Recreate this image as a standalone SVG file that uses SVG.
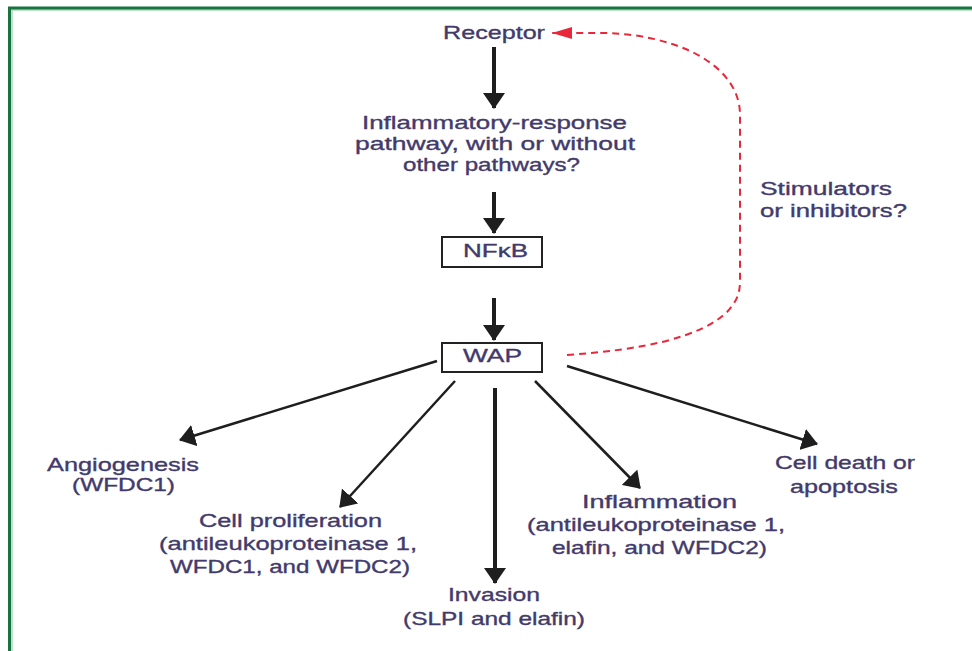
<svg xmlns="http://www.w3.org/2000/svg" width="972" height="651" viewBox="0 0 972 651">
<defs>
<style>
text{font-family:"Liberation Sans",Arial,sans-serif;font-size:18.5px;fill:#433a6c;stroke:#433a6c;stroke-width:0.35px;}
.blk{stroke:#1e1e1e;fill:none;}
.box{fill:#fff;stroke:#222;stroke-width:2;}
</style>
<marker id="ah" markerUnits="userSpaceOnUse" markerWidth="16" markerHeight="22" refX="15" refY="11" orient="auto">
<path d="M0,0 L16,11 L0,22 z" fill="#1e1e1e"/>
</marker>
<marker id="ahr" markerUnits="userSpaceOnUse" markerWidth="22" markerHeight="12" refX="20" refY="6" orient="auto">
<path d="M0,0 L20,6 L0,12 z" fill="#e8283a"/>
</marker>
</defs>
<rect width="972" height="651" fill="#fff"/>
<path d="M12,651 V10 H972" fill="none" stroke="#a9d8b6" stroke-width="1.5"/>
<path d="M9.5,651 V8 H972" fill="none" stroke="#177340" stroke-width="3"/>

<g id="connectors">
<path class="blk" stroke-width="4" d="M494,47 V108" marker-end="url(#ah)"/>
<path class="blk" stroke-width="4" d="M494,192 V233" marker-end="url(#ah)"/>
<path class="blk" stroke-width="4" d="M494,298 V340" marker-end="url(#ah)"/>
<path class="blk" stroke-width="2.5" d="M437,361 L180,440" marker-end="url(#ah)"/>
<path class="blk" stroke-width="2.5" d="M455,381 L340,507" marker-end="url(#ah)"/>
<path class="blk" stroke-width="4" d="M495,388 V583" marker-end="url(#ah)"/>
<path class="blk" stroke-width="2.5" d="M535,381 L640,488" marker-end="url(#ah)"/>
<path class="blk" stroke-width="2.5" d="M567,366 L817,444" marker-end="url(#ah)"/>
<path d="M567,355 C640,350 700,338 727,312 C738,300 740,292 740,280 L740,115 C740,62 670,33 600,33 L552,33" fill="none" stroke="#e8283a" stroke-width="2" stroke-dasharray="7 5" marker-end="url(#ahr)"/>
</g>

<g id="receptor"><text x="443" y="39" textLength="102" lengthAdjust="spacingAndGlyphs">Receptor</text></g>
<g id="pathway">
<text x="362" y="129" textLength="265" lengthAdjust="spacingAndGlyphs">Inflammatory-response</text>
<text x="355" y="150" textLength="280" lengthAdjust="spacingAndGlyphs">pathway, with or without</text>
<text x="403" y="171" textLength="177" lengthAdjust="spacingAndGlyphs">other pathways?</text>
</g>
<g id="nfkb"><rect class="box" x="442" y="237" width="100" height="30"/><text x="463" y="257" textLength="65" lengthAdjust="spacingAndGlyphs">NFκB</text></g>
<g id="wap"><rect class="box" x="442" y="343" width="100" height="29"/><text x="463" y="362" textLength="59" lengthAdjust="spacingAndGlyphs">WAP</text></g>
<g id="stimulators">
<text x="760" y="195" textLength="132" lengthAdjust="spacingAndGlyphs">Stimulators</text>
<text x="760" y="217" textLength="147" lengthAdjust="spacingAndGlyphs">or inhibitors?</text>
</g>
<g id="angiogenesis">
<text x="47" y="471" textLength="152" lengthAdjust="spacingAndGlyphs">Angiogenesis</text>
<text x="72" y="491" textLength="103" lengthAdjust="spacingAndGlyphs">(WFDC1)</text>
</g>
<g id="proliferation">
<text x="199" y="527" textLength="183" lengthAdjust="spacingAndGlyphs">Cell proliferation</text>
<text x="159" y="550" textLength="258" lengthAdjust="spacingAndGlyphs">(antileukoproteinase 1,</text>
<text x="170" y="573" textLength="240" lengthAdjust="spacingAndGlyphs">WFDC1, and WFDC2)</text>
</g>
<g id="invasion">
<text x="448" y="601" textLength="92" lengthAdjust="spacingAndGlyphs">Invasion</text>
<text x="403" y="625" textLength="182" lengthAdjust="spacingAndGlyphs">(SLPI and elafin)</text>
</g>
<g id="inflammation">
<text x="582" y="508" textLength="155" lengthAdjust="spacingAndGlyphs">Inflammation</text>
<text x="527" y="531" textLength="258" lengthAdjust="spacingAndGlyphs">(antileukoproteinase 1,</text>
<text x="552" y="554" textLength="215" lengthAdjust="spacingAndGlyphs">elafin, and WFDC2)</text>
</g>
<g id="celldeath">
<text x="775" y="469" textLength="140" lengthAdjust="spacingAndGlyphs">Cell death or</text>
<text x="790" y="493" textLength="108" lengthAdjust="spacingAndGlyphs">apoptosis</text>
</g>
</svg>
